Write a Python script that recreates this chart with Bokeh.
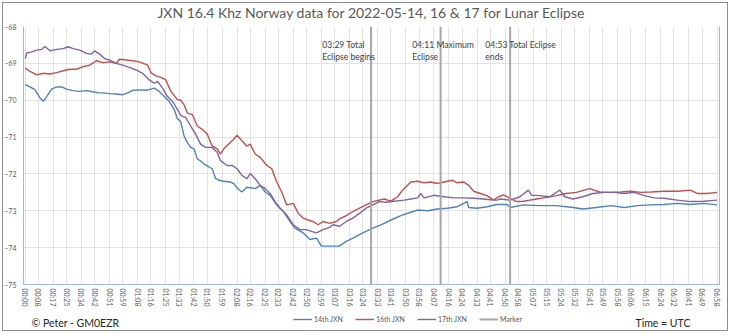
from bokeh.plotting import figure
from bokeh.layouts import column
from bokeh.models import (Range1d, FixedTicker, LinearAxis, Legend, LegendItem, Label,
                          InlineStyleSheet)
from bokeh.core.properties import value
from bokeh.embed import file_html
from bokeh.resources import INLINE

# ---------------- data (minutes after 00:00 UTC, signal level) ----------------
tick_labels = ["00:00", "00:08", "00:17", "00:25", "00:34", "00:42", "00:51", "00:59",
               "01:08", "01:16", "01:25", "01:33", "01:42", "01:50", "01:59", "02:08",
               "02:16", "02:25", "02:33", "02:42", "02:50", "02:59", "03:07", "03:16",
               "03:24", "03:33", "03:41", "03:50", "03:58", "04:07", "04:16", "04:24",
               "04:33", "04:41", "04:50", "04:58", "05:07", "05:15", "05:24", "05:32",
               "05:41", "05:49", "05:58", "06:06", "06:15", "06:24", "06:32", "06:41",
               "06:49", "06:58"]

t14 = [0, 3, 6, 9, 11, 13, 16, 19, 22, 25, 29, 33, 37, 41, 44, 47, 51, 55, 59, 62,
       65, 70, 73, 76, 78, 81, 84, 87, 90, 92, 94, 96, 98, 100, 102, 104, 106, 108,
       110, 113, 115, 117, 120, 124, 126, 128, 131, 134, 137, 139, 142, 145, 148,
       152, 156, 160, 163, 168, 172, 176, 179, 184, 189, 190, 194, 198, 204, 210,
       215, 221, 227, 233, 237, 243, 249, 255, 261, 267, 268, 273, 279, 285, 291,
       293, 301, 311, 321, 331, 337, 345, 354, 362, 370, 378, 386, 394, 402, 410, 418]
v14 = [-69.58, -69.64, -69.72, -69.94, -70.03, -69.90, -69.70, -69.64, -69.64, -69.70,
       -69.74, -69.76, -69.74, -69.77, -69.80, -69.80, -69.82, -69.83, -69.85, -69.80,
       -69.73, -69.72, -69.73, -69.70, -69.67, -69.76, -69.90, -70.03, -70.25, -70.50,
       -70.58, -70.97, -71.15, -71.28, -71.32, -71.59, -71.65, -71.73, -71.78, -71.86,
       -72.12, -72.17, -72.20, -72.22, -72.26, -72.38, -72.49, -72.36, -72.38, -72.40,
       -72.31, -72.49, -72.58, -72.84, -73.02, -73.29, -73.47, -73.60, -73.78, -73.74,
       -73.96, -73.96, -73.96, -73.95, -73.83, -73.74, -73.60, -73.47, -73.38, -73.25,
       -73.13, -73.04, -72.98, -73.00, -72.95, -72.93, -72.89, -72.75, -72.91, -72.93,
       -72.89, -72.83, -72.83, -72.91, -72.84, -72.86, -72.86, -72.91, -72.95, -72.91,
       -72.86, -72.91, -72.86, -72.84, -72.83, -72.80, -72.83, -72.80, -72.84]

t16 = [0, 3, 7, 11, 15, 19, 23, 27, 31, 35, 39, 43, 47, 51, 55, 57, 61, 65, 69, 74,
       76, 79, 82, 85, 88, 92, 94, 96, 98, 101, 104, 107, 110, 113, 116, 118, 120,
       123, 126, 128, 131, 134, 136, 139, 142, 146, 149, 152, 155, 158, 162, 165,
       168, 171, 174, 177, 180, 184, 188, 190, 194, 198, 202, 206, 210, 217, 221,
       225, 228, 233, 237, 241, 245, 249, 253, 258, 261, 265, 268, 271, 275, 279,
       283, 286, 289, 293, 297, 301, 305, 309, 313, 317, 321, 327, 333, 341, 347,
       353, 360, 366, 372, 378, 386, 394, 402, 406, 412, 418]
v16 = [-69.13, -69.22, -69.31, -69.27, -69.29, -69.25, -69.20, -69.16, -69.16, -69.09,
       -69.05, -68.93, -68.98, -68.96, -69.00, -68.89, -68.91, -68.93, -68.96, -69.05,
       -69.25, -69.34, -69.38, -69.45, -69.76, -69.98, -70.00, -70.12, -70.35, -70.39,
       -70.70, -70.79, -70.92, -71.24, -71.32, -71.46, -71.32, -71.19, -71.06, -70.95,
       -71.10, -71.25, -71.19, -71.46, -71.55, -71.77, -71.86, -72.22, -72.49, -72.84,
       -72.80, -73.07, -73.20, -73.25, -73.29, -73.38, -73.29, -73.34, -73.29, -73.22,
       -73.13, -73.02, -72.93, -72.84, -72.75, -72.68, -72.74, -72.62, -72.44, -72.22,
       -72.20, -72.24, -72.22, -72.26, -72.22, -72.17, -72.24, -72.22, -72.31, -72.47,
       -72.53, -72.59, -72.71, -72.62, -72.57, -72.66, -72.75, -72.74, -72.71, -72.68,
       -72.65, -72.62, -72.59, -72.53, -72.50, -72.40, -72.49, -72.50, -72.49, -72.47,
       -72.50, -72.49, -72.47, -72.47, -72.44, -72.53, -72.53, -72.50]

t17 = [0, 1, 4, 7, 10, 12, 15, 19, 23, 26, 29, 33, 37, 40, 42, 45, 48, 51, 55, 59,
       63, 67, 71, 75, 78, 80, 83, 86, 89, 92, 94, 97, 100, 103, 106, 109, 113, 116,
       118, 122, 125, 128, 131, 134, 136, 139, 142, 145, 148, 151, 154, 158, 162,
       166, 170, 173, 176, 180, 184, 186, 190, 194, 198, 202, 206, 210, 214, 218,
       223, 229, 233, 237, 239, 241, 247, 253, 259, 265, 271, 277, 281, 285, 287,
       293, 299, 304, 306, 311, 317, 323, 326, 331, 337, 343, 350, 356, 362, 368,
       374, 380, 386, 394, 402, 410, 418]
v17 = [-68.87, -68.72, -68.69, -68.64, -68.62, -68.54, -68.66, -68.62, -68.60, -68.55,
       -68.60, -68.64, -68.73, -68.75, -68.66, -68.75, -68.87, -68.91, -69.00, -69.05,
       -69.11, -69.18, -69.27, -69.45, -69.54, -69.49, -69.67, -69.90, -70.03, -70.25,
       -70.41, -70.47, -70.70, -70.92, -71.19, -71.28, -71.28, -71.41, -71.64, -71.77,
       -71.77, -71.86, -72.04, -72.13, -71.99, -72.13, -72.31, -72.40, -72.53, -72.75,
       -72.93, -73.11, -73.38, -73.51, -73.51, -73.56, -73.60, -73.51, -73.45, -73.38,
       -73.42, -73.29, -73.20, -73.07, -72.93, -72.84, -72.75, -72.77, -72.74, -72.71,
       -72.68, -72.65, -72.53, -72.65, -72.58, -72.62, -72.65, -72.65, -72.66, -72.68,
       -72.70, -72.71, -72.68, -72.71, -72.62, -72.44, -72.58, -72.59, -72.62, -72.44,
       -72.62, -72.68, -72.62, -72.53, -72.50, -72.50, -72.53, -72.50, -72.59, -72.65,
       -72.66, -72.71, -72.75, -72.74, -72.71]

series_names = ["14th JXN", "16th JXN", "17th JXN"]
series_colors = ["#4F81BD", "#C0504D", "#8064A2"]

marker_labels = ["03:29", "04:11", "04:53"]
marker_texts = ["03:29 Total\nEclipse begins", "04:11 Maximum\nEclipse",
                "04:53 Total Eclipse\nends"]

title_text = "JXN 16.4 Khz Norway data for 2022-05-14, 16 & 17 for Lunar Eclipse"
credit_text = "\u00a9 Peter - GM0EZR"
time_text = "Time = UTC"


def to_min(s):
    h, m = s.split(":")
    return int(h) * 60 + int(m)


tick_pos = [to_min(s) for s in tick_labels]
marker_pos = [to_min(s) for s in marker_labels]
series_t = [t14, t16, t17]
series_v = [v14, v16, v17]

FONT = "Lato"
GREY = "#595959"
AXIS_BLUE = "#9DB9DF"
MARK_GREY = "#A6A6A6"
LW = 1.4

# geometry (canvas px)
W = 730
FL, FR, FT, FB = 23, 719, 26, 287
HP = 309          # main figure height
H2 = 24           # footer strip height

# ---------------- main chart ----------------
p = figure(width=W, height=HP, output_backend="svg", toolbar_location=None,
           x_range=Range1d(-1.0, 419.5), y_range=Range1d(-75, -68),
           min_border_left=FL, min_border_right=W - FR, min_border_top=FT,
           min_border_bottom=HP - FB, background_fill_color="white",
           border_fill_color=None, outline_line_color=None)

p.title.text = title_text
p.title.align = "center"
p.title.vertical_align = "top"
p.title.text_font = FONT
p.title.text_font_size = "14px"
p.title.text_font_style = "normal"
p.title.text_color = GREY
p.title.standoff = 7

p.xaxis.ticker = FixedTicker(ticks=tick_pos)
p.xaxis.major_label_overrides = {tp: lab for tp, lab in zip(tick_pos, tick_labels)}
p.xaxis.major_label_orientation = "vertical"
p.yaxis.ticker = FixedTicker(ticks=[-75, -74, -73, -72, -71, -70, -69, -68])
for ax in (p.xaxis[0], p.yaxis[0]):
    ax.axis_line_color = AXIS_BLUE
    ax.axis_line_width = 1
    ax.major_tick_out = 0
    ax.major_tick_in = 0
    ax.minor_tick_out = 0
    ax.minor_tick_in = 0
    ax.major_label_text_font = FONT
    ax.major_label_text_font_size = "7px"
    ax.major_label_text_color = GREY
p.xaxis.major_label_standoff = 4
p.yaxis.major_label_standoff = 7

raxis = LinearAxis(ticker=FixedTicker(ticks=[]), axis_line_color=AXIS_BLUE,
                   major_tick_out=0, minor_tick_out=0, major_label_text_font_size="0px")
p.add_layout(raxis, "right")

p.xgrid.ticker = FixedTicker(ticks=tick_pos)
p.xgrid.grid_line_color = "#E3E3E3"
p.ygrid.grid_line_color = "#E3E3E3"

for t, v, c in zip(series_t, series_v, series_colors):
    p.line(t, v, line_color=c, line_width=LW)

p.segment(x0=marker_pos, y0=[-75] * 3, x1=marker_pos, y1=[-68] * 3,
          line_color=MARK_GREY, line_width=2)

text_offsets = [-29.5, -17.2, -15.0]
p.text(x=[m + o for m, o in zip(marker_pos, text_offsets)], y=[-68.37] * 3,
       text=marker_texts, text_font=value(FONT), text_font_size="8.6px",
       text_color="#404040", text_baseline="top", text_align="left",
       text_line_height=1.15)

# ---------------- footer strip: legend, credit, time zone ----------------
# the strip's frame is aligned with the chart's frame (x 23..719); its data
# coordinates equal the page's pixel coordinates (y grows downward)
p2 = figure(width=W, height=H2, output_backend="svg", toolbar_location=None,
            x_range=Range1d(FL, FR), y_range=Range1d(HP + H2, HP),
            x_axis_type=None, y_axis_type=None, min_border=0,
            background_fill_color=None, border_fill_color=None,
            outline_line_color=None)
p2.grid.visible = False

# legend keys: the same series styles (their values fall outside this strip)
keys = [p2.line(t, v, line_color=c, line_width=LW)
        for t, v, c in zip(series_t, series_v, series_colors)]
keys.append(p2.segment(x0=marker_pos, y0=[-75] * 3, x1=marker_pos, y1=[-68] * 3,
                       line_color=MARK_GREY, line_width=2))
legend = Legend(items=[LegendItem(label=n, renderers=[r])
                       for n, r in zip(series_names + ["Marker"], keys)],
                orientation="horizontal", location=(293 - FL, 10),
                label_text_font=FONT, label_text_font_size="7px",
                label_text_color=GREY, glyph_width=19, glyph_height=8,
                label_standoff=2, spacing=12, padding=0, margin=0,
                background_fill_alpha=0, border_line_color=None,
                label_height=8)
p2.add_layout(legend)

p2.add_layout(Label(x=31, y=322, text=credit_text, text_font=FONT,
                    text_font_size="10.5px", text_color="#262626",
                    text_align="left", text_baseline="middle"))
p2.add_layout(Label(x=635, y=322, text=time_text, text_font=FONT,
                    text_font_size="10.5px", text_color="#262626",
                    text_align="left", text_baseline="middle"))

frame_css = InlineStyleSheet(css=":host { outline: 1px solid #8C8C8C; "
                                 "outline-offset: -3px; }")
layout = column(p, p2, spacing=0, stylesheets=[frame_css],
                styles={"outline": "1px solid #8C8C8C", "outline-offset": "-3px"})

open("out.html", "w").write(file_html(layout, INLINE))
